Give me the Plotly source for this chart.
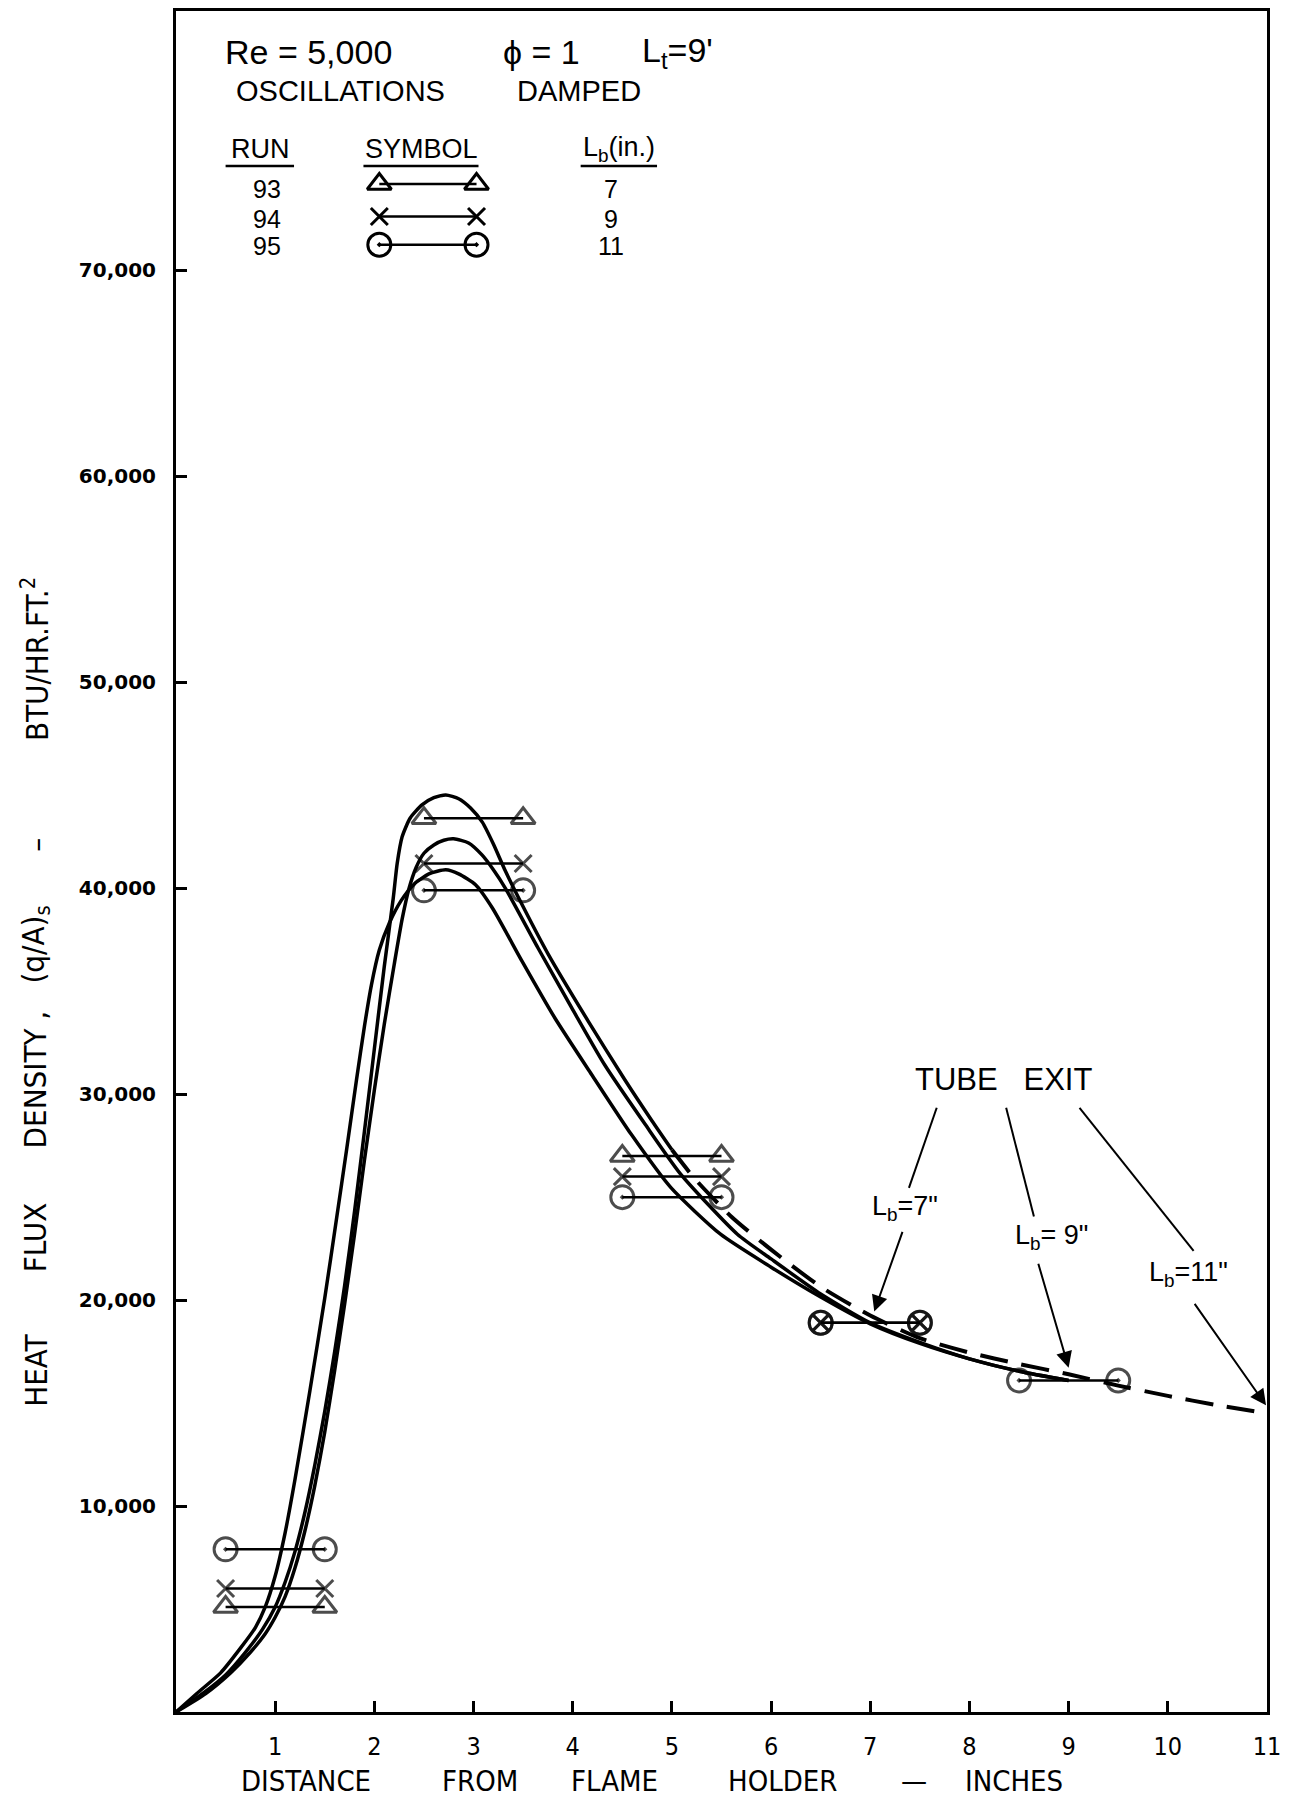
import plotly.graph_objects as go

# ---- measured section heat flux (1-in. test sections) ----
SECTION_START = [0.5, 2.5, 4.5, 6.5, 8.5]   # in. from flame holder
SECTION_END = [1.5, 3.5, 5.5, 7.5, 9.5]
RUN93_FLUX = [5100, 43400, 27000, None, None]      # BTU/hr ft^2
RUN94_FLUX = [6000, 41200, 26000, 18900, None]
RUN95_FLUX = [7900, 39900, 25000, 18900, 16100]

RUN_LABELS = ["93", "94", "95"]
BURNER_LENGTHS = ["7", "9", "11"]

X_TICKS = [1, 2, 3, 4, 5, 6, 7, 8, 9, 10, 11]
Y_TICKS = [10000, 20000, 30000, 40000, 50000, 60000, 70000]
Y_TICK_TEXT = ["10,000", "20,000", "30,000", "40,000", "50,000", "60,000", "70,000"]

# ---- faired curves ----
CURVE93_X = [0, 0.27, 0.5, 0.7, 0.87, 1.0, 1.1, 1.2, 1.3, 1.4, 1.5, 1.6, 1.7, 1.8, 1.9,
             2.0, 2.1, 2.19, 2.23, 2.28, 2.36, 2.48, 2.6, 2.72, 2.85, 2.97, 3.09, 3.2,
             3.32, 3.49, 3.755, 4.157, 4.525, 4.8, 5.0]
CURVE93_Y = [0, 900, 1800, 2900, 4000, 5100, 6300, 7800, 9700, 12000, 14600, 17500, 20700,
             24300, 28200, 32200, 36200, 39500, 41200, 42500, 43400, 44050, 44400, 44530,
             44350, 43900, 43200, 42150, 40850, 39200, 36780, 33540, 30700, 28700, 27300]
# run 93 curve carried on (dashed) to the tube exit
EXTRAP93_X = [5.0, 5.23, 5.6, 6.0, 6.5, 7.0, 7.5, 8.0, 8.5, 9.0, 9.5, 10.0, 10.5, 11.0]
EXTRAP93_Y = [27300, 25900, 24050, 22450, 20650, 19250, 18150, 17450, 16900, 16400,
              15850, 15350, 14900, 14500]

CURVE94_X = [0, 0.3, 0.55, 0.75, 0.9, 1.0, 1.1, 1.2, 1.3, 1.4, 1.5, 1.6, 1.7, 1.8, 1.9,
             2.0, 2.1, 2.2, 2.28, 2.35, 2.42, 2.5, 2.6, 2.7, 2.8, 2.95, 3.085, 3.2, 3.32,
             3.65, 3.99, 4.32, 4.73, 5.09, 5.66, 6.0, 6.5, 7.0, 7.5, 8.0, 8.5, 9.0]
CURVE94_Y = [0, 900, 1900, 2900, 3800, 4600, 5600, 7000, 8800, 11000, 13600, 16600, 19800,
             23200, 26800, 30200, 33400, 36300, 38500, 40000, 41000, 41700, 42100, 42330,
             42400, 42200, 41620, 40900, 40010, 37100, 34190, 31440, 28540, 26110, 23200,
             22000, 20300, 18900, 17950, 17150, 16550, 16100]

CURVE95_X = [0, 0.21, 0.45, 0.65, 0.8, 0.9, 1.0, 1.1, 1.2, 1.35, 1.5, 1.62, 1.72, 1.82,
             1.9, 1.97, 2.05, 2.15, 2.27, 2.4, 2.55, 2.72, 2.85, 3.02, 3.19, 3.49, 3.82,
             4.19, 4.59, 4.99, 5.49, 6.0, 6.5, 7.0, 7.5, 8.0, 8.5, 9.0]
CURVE95_Y = [0, 900, 1900, 3100, 4100, 5100, 6600, 8700, 11300, 15600, 20100, 24000, 27300,
             30700, 33300, 35300, 37000, 38300, 39400, 40200, 40700, 40900, 40700, 40170,
             39040, 36450, 33700, 30960, 28050, 25460, 23200, 21600, 20150, 18850, 17900,
             17150, 16550, 16100]

TEXT_FONT = "Liberation Sans, Arial, sans-serif"
NARROW_FONT = "Liberation Sans Narrow, DejaVu Sans Condensed, Arial Narrow, Liberation Sans, sans-serif"
INK = "black"

fig = go.Figure()

# faired curves
for cx, cy in [(CURVE95_X, CURVE95_Y), (CURVE94_X, CURVE94_Y), (CURVE93_X, CURVE93_Y)]:
    fig.add_trace(go.Scatter(x=cx, y=cy, mode="lines",
                             line=dict(color=INK, width=3.5, shape="spline", smoothing=0.6),
                             hoverinfo="skip"))
fig.add_trace(go.Scatter(x=EXTRAP93_X, y=EXTRAP93_Y, mode="lines",
                         line=dict(color=INK, width=4, dash="28px,14px", shape="spline", smoothing=0.6),
                         hoverinfo="skip"))

# section readings: one horizontal bar per 1-in. section, symbol at each end
SYMBOLS = {"93": ("triangle-up-open", 21), "94": ("x-thin-open", 17), "95": ("circle-open-dot", 23)}
series = {"93": RUN93_FLUX, "94": RUN94_FLUX, "95": RUN95_FLUX}
for run in RUN_LABELS:
    xs, ys, syms, sizes = [], [], [], []
    base_sym, base_size = SYMBOLS[run]
    for i, q in enumerate(series[run]):
        if q is None:
            continue
        # runs 94 and 95 coincide: drawn with the combined symbol
        shared = RUN94_FLUX[i] is not None and RUN94_FLUX[i] == RUN95_FLUX[i] and run in ("94", "95")
        sym, size = ("circle-x-open", 23) if shared else (base_sym, base_size)
        xs += [SECTION_START[i], SECTION_END[i], None]
        ys += [q, q, None]
        syms += [sym, sym, sym]
        sizes += [size, size, size]
    fig.add_trace(go.Scatter(x=xs, y=ys, mode="lines+markers",
                             line=dict(color=INK, width=2.5),
                             marker=dict(symbol=syms, size=sizes, color=INK,
                                         line=dict(color=INK, width=3)),
                             hoverinfo="skip"))

# key table in the upper left
KEY_SYMBOL_X = [2.05, 3.03]
KEY_ROW_Y = [74200, 72620, 71250]
for run, ky in zip(RUN_LABELS, KEY_ROW_Y):
    sym, size = SYMBOLS[run]
    fig.add_trace(go.Scatter(x=KEY_SYMBOL_X, y=[ky, ky], mode="lines+markers",
                             line=dict(color=INK, width=2.5),
                             marker=dict(symbol=sym, size=size, color=INK,
                                         line=dict(color=INK, width=3)),
                             hoverinfo="skip"))

ann = []


def text(x, y, s, size, family=TEXT_FONT, **kw):
    ann.append(dict(x=x, y=y, xref=kw.pop("xref", "x"), yref=kw.pop("yref", "y"), text=s,
                    showarrow=False, xanchor=kw.pop("xanchor", "center"),
                    yanchor=kw.pop("yanchor", "middle"),
                    font=dict(family=family, size=size, color=INK), **kw))


# header
text(1.34, 80600, "Re = 5,000", 34)
text(3.69, 80600, "\u03d5 = 1", 34)
text(5.06, 80600, "L<sub>t</sub>=9'", 34)
text(1.66, 78700, "OSCILLATIONS", 29)
text(4.06, 78700, "DAMPED", 29)

# key headings and rows
text(0.85, 75900, "RUN", 27)
text(2.48, 75900, "SYMBOL", 27)
text(4.47, 75900, "L<sub>b</sub>(in.)", 27)
for run, lb, ty in zip(RUN_LABELS, BURNER_LENGTHS, [73940, 72480, 71190]):
    text(0.916, ty, run, 25)
    text(4.39, ty, lb, 25)

shapes = []
for x0, x1 in [(0.50, 1.19), (1.89, 3.05), (4.08, 4.85)]:
    shapes.append(dict(type="line", x0=x0, x1=x1, y0=75070, y1=75070, xref="x", yref="y",
                       line=dict(color=INK, width=2.5)))

# tube exit call-outs
text(8.34, 30730, "TUBE\u00a0\u00a0\u00a0EXIT", 31)
text(7.35, 24480, "L<sub>b</sub>=7\"", 27)
text(8.83, 23070, "L<sub>b</sub>= 9\"", 27)
text(10.21, 21280, "L<sub>b</sub>=11\"", 27)
for x0, y0, x1, y1 in [(7.67, 29340, 7.39, 25450), (8.37, 29340, 8.65, 24060),
                       (9.11, 29340, 10.26, 22390)]:
    shapes.append(dict(type="line", x0=x0, y0=y0, x1=x1, y1=y1, xref="x", yref="y",
                       line=dict(color=INK, width=2)))
for tx, ty, hx, hy in [(7.33, 23390, 7.04, 19450), (8.69, 21840, 9.0, 16720),
                       (10.26, 19890, 10.99, 14890)]:
    ann.append(dict(x=hx, y=hy, ax=tx, ay=ty, xref="x", yref="y", axref="x", ayref="y",
                    text="", showarrow=True, arrowhead=2, arrowsize=1.6, arrowwidth=2,
                    arrowcolor=INK))

# axis titles, word by word
for wx, w in [(1.31, "DISTANCE"), (3.07, "FROM"), (4.42, "FLAME"), (6.12, "HOLDER"),
              (7.44, "\u2014"), (8.45, "INCHES")]:
    text(wx, 0, w, 29, family=NARROW_FONT, yref="paper", yshift=-69)
for wy, w in [(16580, "HEAT"), (23070, "FLUX"), (30730, "DENSITY ,"),
              (37280, "(q/A)<sub>s</sub>"), (42120, "\u2013"), (51140, "BTU/HR.FT.<sup>2</sup>")]:
    text(-0.129, wy, w, 31, family=NARROW_FONT, xref="paper", textangle=-90)

fig.update_layout(
    width=1289, height=1798,
    margin=dict(l=176, r=17, t=8, b=86),
    paper_bgcolor="white", plot_bgcolor="white",
    showlegend=False,
    annotations=ann, shapes=shapes,
    xaxis=dict(range=[0, 11], tickvals=X_TICKS, ticks="inside", ticklen=11, tickwidth=2.5,
               tickcolor=INK, showline=True, linewidth=3, linecolor=INK, mirror=True,
               showgrid=False, zeroline=False, ticklabelstandoff=10,
               tickfont=dict(family=NARROW_FONT, size=25, color=INK)),
    yaxis=dict(range=[0, 82600], tickvals=Y_TICKS, ticktext=Y_TICK_TEXT, ticks="inside",
               ticklen=11, tickwidth=2.5, tickcolor=INK, showline=True, linewidth=3,
               linecolor=INK, mirror=True, showgrid=False, zeroline=False,
               ticklabelstandoff=13,
               tickfont=dict(family="DejaVu Sans, sans-serif", size=20, color=INK, weight="bold")),
)

fig.write_html("out.html")
